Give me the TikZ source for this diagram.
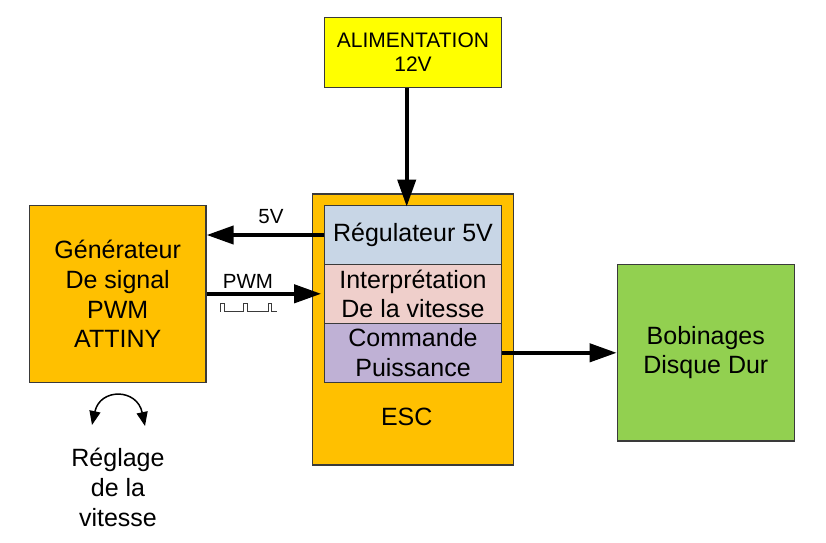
\documentclass[tikz,border=0pt]{standalone}
\usepackage{fontspec}
\setmainfont{Liberation Sans}
\usetikzlibrary{arrows.meta}
\definecolor{orangeA}{HTML}{FFC000}
\definecolor{yellowA}{HTML}{FFFF00}
\definecolor{greenA}{HTML}{92D050}
\definecolor{blueA}{HTML}{C8D6E6}
\definecolor{pinkA}{HTML}{EFCFCB}
\definecolor{lilacA}{HTML}{BFB1D5}
\definecolor{edgeA}{HTML}{3A3A3A}
\begin{document}
\begin{tikzpicture}[x=1pt,y=-1pt,
  box/.style={draw=edgeA,line width=1.2pt,inner sep=0pt,align=center,
     font=\fontsize{25}{29.6}\selectfont},
  big/.style={line width=4pt,-{Triangle[length=27pt,width=18pt]}},
  lbl/.style={inner sep=0pt,font=\fontsize{20.5}{24}\selectfont},
  txt/.style={inner sep=0pt,align=center,font=\fontsize{25}{30}\selectfont}]
\useasboundingbox (0,0) rectangle (826,542);
% boxes
\node[box,fill=yellowA,minimum width=177.7pt,minimum height=70pt,
  font=\fontsize{21}{24}\selectfont] (alim) at (413,52.3) {ALIMENTATION\\12V};
\node[box,fill=orangeA,minimum width=176.7pt,minimum height=176.6pt] (gen) at (117.7,294)
  {G\'en\'erateur\\De signal\\PWM\\ATTINY};
\node[box,fill=orangeA,minimum width=201pt,minimum height=271pt] (esc) at (412.8,329.5) {};
\node[box,fill=blueA,minimum width=177.4pt,minimum height=58.6pt] (reg) at (413,235) {R\'egulateur 5V};
\node[box,fill=pinkA,minimum width=177.4pt,minimum height=59pt] (interp) at (413,293.8)
  {Interpr\'etation\\De la vitesse};
\node[box,fill=lilacA,minimum width=177.4pt,minimum height=59pt] (comm) at (413,352.8)
  {Commande\\Puissance};
\node[txt] (esclbl) at (406.7,416.7) {ESC};
\node[box,fill=greenA,minimum width=177pt,minimum height=176.7pt] (bob) at (705.8,352.7)
  {Bobinages\\Disque Dur};
% arrows
\draw[big] ([xshift=-6.3pt]alim.south) -- ([xshift=-6.3pt,yshift=-1.5pt]reg.north);
\draw[big] (reg.west) -- (gen.east |- reg.west);
\draw[big] (gen.east |- interp.west) -- ([xshift=-2.5pt]interp.west);
\draw[big] (comm.east) -- (bob.west |- comm.east);
% labels
\node[lbl] (l5v) at (271,217) {5V};
\node[lbl] (lpwm) at (248,281) {PWM};
% PWM waveform
\draw[line width=1pt,edgeA] (220.7,311.7) -- (220.7,303.3) -- (224,303.3) -- (224,311.7)
  -- (243.3,311.7) -- (243.3,303.3) -- (247.3,303.3) -- (247.3,311.7)
  -- (268.3,311.7) -- (268.3,303.3) -- (271,303.3) -- (271,311.7) -- (276.7,311.7);
% adjustment arrow
\coordinate (cl) at (92,425);
\coordinate (cr) at (145,426);
\draw[line width=1.5pt,{Triangle[length=14pt,width=11pt]}-{Triangle[length=14pt,width=11pt]}]
  (cl) .. controls (100,388) and (137,388) .. (cr);
\node[txt] (regl) at (118,487) {R\'eglage\\de la\\vitesse};
\end{tikzpicture}
\end{document}
